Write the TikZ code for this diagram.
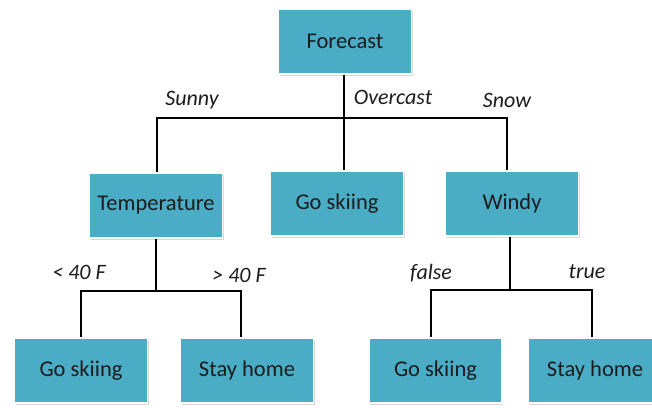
\documentclass[tikz,border=0pt]{standalone}
\usepackage{fontspec}
\setmainfont{Carlito}
\usetikzlibrary{shadows}
\definecolor{boxfill}{HTML}{4BACC6}
\definecolor{boxtext}{HTML}{1C1C1C}
\tikzset{
  decision/.style={rectangle, fill=boxfill, draw=white, line width=1.5pt,
    minimum width=133pt, minimum height=65pt, inner sep=0pt,
    text=boxtext, font=\fontsize{22.5}{26}\selectfont,
    drop shadow={shadow xshift=1pt, shadow yshift=-1.5pt, opacity=0.25, fill=black!60}},
  branch/.style={text=boxtext, font=\fontsize{22}{26}\selectfont\itshape, inner sep=0pt},
  link/.style={draw=black, line width=2.4pt}
}
\begin{document}
\begin{tikzpicture}[x=1pt, y=-1pt]
  \useasboundingbox (0,0) rectangle (652,407);

  % tree nodes
  \node[decision] (fc)    at (345,41.5)  {Forecast};
  \node[decision] (temp)  at (156,205.5) {Temperature};
  \node[decision] (ski1)  at (337,203.5) {Go skiing};
  \node[decision] (win)   at (512,203.5) {Windy};
  \node[decision] (ski2)  at (81,370.5)  {Go skiing};
  \node[decision] (stay1) at (247,370.5) {Stay home};
  \node[decision] (ski3)  at (435.5,370.5) {Go skiing};
  \node[decision] (stay2) at (595,370.5) {Stay home};

  % junction points of the branch bars
  \coordinate (top)   at (344,118);
  \coordinate (topL)  at (157,118);
  \coordinate (topR)  at (507,118);
  \coordinate (tmp)   at (156,291);
  \coordinate (tmpL)  at (81,291);
  \coordinate (tmpR)  at (241,291);
  \coordinate (wnd)   at (510,290);
  \coordinate (wndL)  at (431,290);
  \coordinate (wndR)  at (592,290);

  % first level
  \draw[link] (top |- fc.south) -- (top |- ski1.north);
  \draw[link] (topL |- temp.north) -- (topL) -- (topR) -- (topR |- win.north);

  % temperature branches
  \draw[link] (tmp |- temp.south) -- (tmp);
  \draw[link] (tmpL |- ski2.north) -- (tmpL) -- (tmpR) -- (tmpR |- stay1.north);

  % windy branches
  \draw[link] (wnd |- win.south) -- (wnd);
  \draw[link] (wndL |- ski3.north) -- (wndL) -- (wndR) -- (wndR |- stay2.north);

  % branch labels
  \node[branch] (lsunny) at (192,100) {Sunny};
  \node[branch] (lover)  at (393,97)  {Overcast};
  \node[branch] (lsnow)  at (507,100) {Snow};
  \node[branch] (llt)    at (79,272)  {< 40 F};
  \node[branch] (lgt)    at (239,275) {> 40 F};
  \node[branch] (lfalse) at (431,273) {false};
  \node[branch] (ltrue)  at (587,272) {true};
\end{tikzpicture}
\end{document}
